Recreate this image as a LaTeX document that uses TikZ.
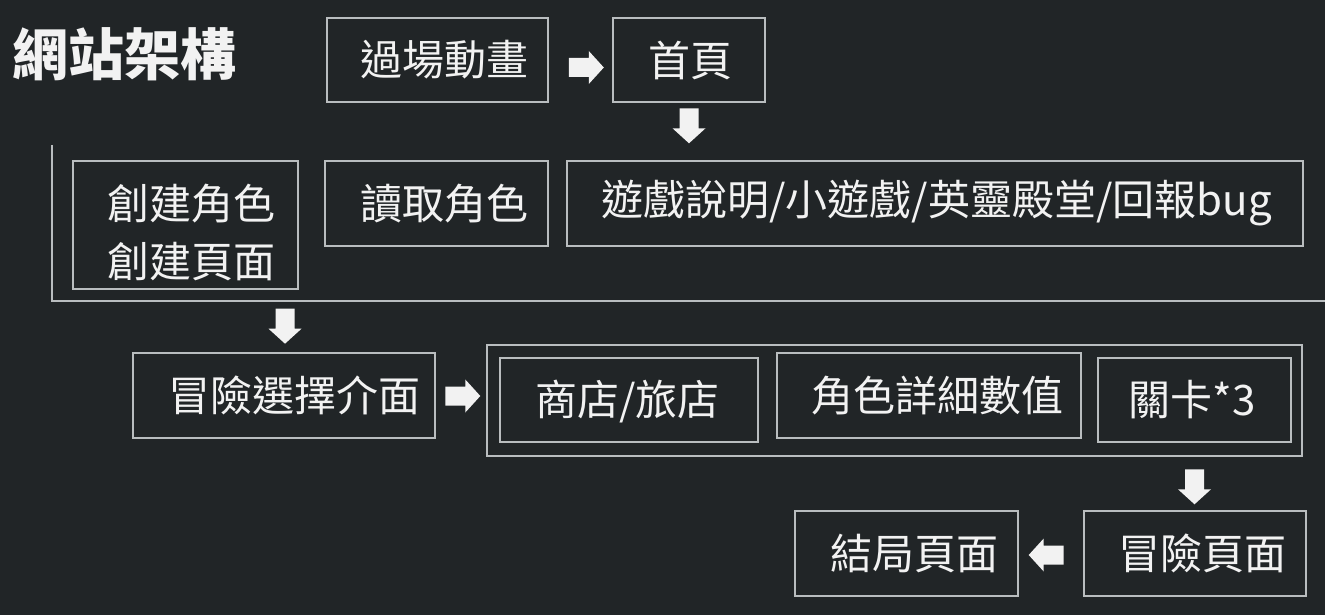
\documentclass[tikz,border=0pt]{standalone}
\usepackage{fontspec}
\newfontfamily\cjk{Noto Sans CJK TC}
\usetikzlibrary{calc}
\definecolor{bgc}{HTML}{212527}
\definecolor{linec}{HTML}{B9BDBF}
\definecolor{txtc}{HTML}{F2F2F2}
\tikzset{
  boxnode/.style={draw=linec, line width=1.6pt, inner sep=0pt},
  lbl/.style={font=\cjk\fontsize{42}{58}\selectfont, text=txtc, inner sep=0pt, anchor=west, align=left},
  ttl/.style={font=\cjk\bfseries\fontsize{56}{60}\selectfont, text=txtc, inner sep=0pt, anchor=west},
  blockarrow/.pic={\fill[txtc] (-17.5,-9.5) -- (2.5,-9.5) -- (2.5,-16.5) -- (17.5,0) -- (2.5,16.5) -- (2.5,9.5) -- (-17.5,9.5) -- cycle;}
}
\begin{document}
\begin{tikzpicture}[x=1pt,y=-1pt]
\fill[bgc] (0,0) rectangle (1325,615);
\useasboundingbox (0,0) rectangle (1325,615);

% title
\node[ttl] (title) at (12,54) {網站架構};

% boxes
\node[boxnode, minimum width=221pt, minimum height=84pt] (intro) at (437.5,60) {};
\node[boxnode, minimum width=152pt, minimum height=84pt] (home) at (689,60) {};
\node[boxnode, minimum width=225pt, minimum height=128pt] (create) at (185.5,225) {};
\node[boxnode, minimum width=223pt, minimum height=85pt] (load) at (436.5,203.5) {};
\node[boxnode, minimum width=736pt, minimum height=85pt] (info) at (935,203.5) {};
\node[boxnode, minimum width=302pt, minimum height=85pt] (select) at (284,395.5) {};
\node[boxnode, minimum width=815pt, minimum height=111pt] (group) at (894.5,400.5) {};
\node[boxnode, minimum width=258pt, minimum height=84pt] (shop) at (629,400) {};
\node[boxnode, minimum width=304pt, minimum height=85pt] (stats) at (929,395.5) {};
\node[boxnode, minimum width=193pt, minimum height=84pt] (stage) at (1194.5,400) {};
\node[boxnode, minimum width=222pt, minimum height=85pt] (adv) at (1195,553.5) {};
\node[boxnode, minimum width=223pt, minimum height=85pt] (ending) at (906.5,553.5) {};

% labels
\node[lbl] (tintro) at ($(intro.west)+(34,0)$) {過場動畫};
\node[lbl] (thome) at ($(home.west)+(36,0)$) {首頁};
\node[lbl] (tcreate) at ($(create.west)+(35,7)$) {創建角色\\創建頁面};
\node[lbl] (tload) at ($(load.west)+(36,0)$) {讀取角色};
\node[lbl] (tinfo) at ($(info.west)+(35,0)$) {遊戲說明/小遊戲/英靈殿堂/回報bug};
\node[lbl] (tselect) at ($(select.west)+(36,0)$) {冒險選擇介面};
\node[lbl] (tshop) at ($(shop.west)+(36,2)$) {商店/旅店};
\node[lbl] (tstats) at ($(stats.west)+(35,0)$) {角色詳細數值};
\node[lbl] (tstage) at ($(stage.west)+(31,0)$) {關卡*3};
\node[lbl] (tadv) at ($(adv.west)+(35,0)$) {冒險頁面};
\node[lbl] (tending) at ($(ending.west)+(36,0)$) {結局頁面};

% bracket line
\coordinate (brtop) at (52,145);
\coordinate (brcorner) at (52,301);
\coordinate (brend) at (1325,301);
\draw[linec, line width=1.6pt] (brtop) -- (brcorner) -- (brend);

% block arrows
\pic at ($(intro.east)+(37.5,7.5)$) {blockarrow};
\pic[rotate=-90] at ($(home.south)+(0,23)$) {blockarrow};
\pic[rotate=-90] at ($(select.north)+(1,-26)$) {blockarrow};
\pic at ($(select.east)+(27,0.5)$) {blockarrow};
\pic[rotate=-90] at ($(stage.south)+(0,44)$) {blockarrow};
\pic[rotate=180] at ($(adv.west)+(-37,1.5)$) {blockarrow};
\end{tikzpicture}
\end{document}
